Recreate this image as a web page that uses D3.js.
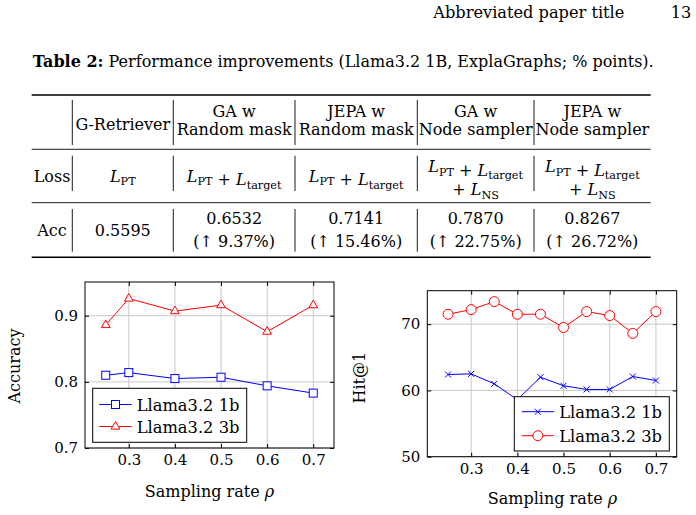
<!DOCTYPE html>
<html>
<head>
<meta charset="utf-8">
<script src="https://cdn.jsdelivr.net/npm/d3@7"></script>
<style>
  body { margin: 0; background: #fff; }
  text { font-family: "DejaVu Serif", "Liberation Serif", serif; fill: #000; }
</style>
</head>
<body>
<div class="container"></div>
<script>
// ---- data ----
var tableHeads = [["G-Retriever"], ["GA w", "Random mask"], ["JEPA w", "Random mask"], ["GA w", "Node sampler"], ["JEPA w", "Node sampler"]];
// subscripts of the L terms, one list per printed line
var lossTerms = [[["PT"]], [["PT", "target"]], [["PT", "target"]], [["PT", "target"], ["NS"]], [["PT", "target"], ["NS"]]];
var accValues = ["0.5595", "0.6532", "0.7141", "0.7870", "0.8267"];
var accGains = [null, "9.37", "15.46", "22.75", "26.72"];

var rhoLeft = [0.25, 0.3, 0.4, 0.5, 0.6, 0.7];
var acc1b = [0.810, 0.814, 0.805, 0.807, 0.794, 0.783];
var acc3b = [0.886, 0.926, 0.907, 0.916, 0.876, 0.916];

var rhoRight = [0.25, 0.3, 0.35, 0.4, 0.45, 0.5, 0.55, 0.6, 0.65, 0.7];
var hit1b = [62.4, 62.5, 61.0, 58.6, 62.0, 60.7, 60.15, 60.15, 62.1, 61.5];
var hit3b = [71.5, 72.2, 73.4, 71.5, 71.5, 69.5, 71.9, 71.3, 68.6, 71.9];

var xTickVals = [0.3, 0.4, 0.5, 0.6, 0.7];
var accTicks = [0.7, 0.8, 0.9];
var hitTicks = [50, 60, 70];
var seriesNames = ["Llama3.2 1b", "Llama3.2 3b"];

const WIDTH = 696;
const HEIGHT = 515;
const BLUE = "#0000ff";
const RED = "#ff0000";
const FS = '16px';   // body text size
const FS_SUB = '11.2px';

var translate = function(x, y){ return "translate(" + x + "," + y + ")"; };

var svg = d3.select('.container').append('svg')
  .attr('width', WIDTH).attr('height', HEIGHT);
svg.append('rect').attr('width', WIDTH).attr('height', HEIGHT).attr('fill', '#fff');

// ---- page header + caption ----
svg.append('text').attr('x', 433.3).attr('y', 18.3).style('font-size', '16.2px').text("Abbreviated paper title");
svg.append('text').attr('x', 670.7).attr('y', 18.3).style('font-size', '16.2px').text("13");

var cap = svg.append('text').attr('x', 32.7).attr('y', 66.7).style('font-size', FS);
cap.append('tspan').style('font-weight', 'bold').text("Table 2:");
cap.append('tspan').text(" Performance improvements (Llama3.2 1B, ExplaGraphs; % points).");

// ---- table ----
var colEdges = [31.7, 72.3, 173.3, 295, 417.3, 534, 650.7];
var colMid = function(i){ return (colEdges[i] + colEdges[i + 1]) / 2; };

[[95, 1.6], [149.3, 0.9], [202.7, 0.9], [257.3, 1.6]].forEach(function(r){
  svg.append('line').attr('x1', colEdges[0]).attr('x2', colEdges[6])
    .attr('y1', r[0]).attr('y2', r[0]).attr('stroke', '#000').attr('stroke-width', r[1]);
});
[[100, 145], [155.7, 191], [209, 251.7]].forEach(function(span){
  colEdges.slice(1, 6).forEach(function(x){
    svg.append('line').attr('x1', x).attr('x2', x).attr('y1', span[0]).attr('y2', span[1])
      .attr('stroke', '#000').attr('stroke-width', 0.9);
  });
});

var cellText = function(x, y){
  return svg.append('text').attr('x', x).attr('y', y).attr('text-anchor', 'middle').style('font-size', FS);
};

tableHeads.forEach(function(lines, i){
  var ys = lines.length == 1 ? [130] : [116.7, 135];
  lines.forEach(function(s, k){ cellText(colMid(i + 1), ys[k]).text(s); });
});

cellText(colMid(0), 181.7).text("Loss");
var addL = function(t, sub){
  t.append('tspan').style('font-style', 'italic').text("L");
  t.append('tspan').attr('dy', 3.5).style('font-size', FS_SUB).text(sub);
  t.append('tspan').attr('dy', -3.5).text("");
};
lossTerms.forEach(function(lines, i){
  var ys = lines.length == 1 ? [181.7] : [172.3, 195];
  lines.forEach(function(subs, k){
    var t = cellText(colMid(i + 1), ys[k]);
    subs.forEach(function(sub, j){
      if (j > 0 || k > 0) t.append('tspan').text(" + ");
      addL(t, sub);
    });
  });
});

cellText(colMid(0), 235.7).text("Acc");
accValues.forEach(function(v, i){
  if (accGains[i] == null) {
    cellText(colMid(i + 1), 235.7).text(v);
  } else {
    cellText(colMid(i + 1), 224.3).text(v);
    cellText(colMid(i + 1), 247.3).text("(\u2191 " + accGains[i] + "%)");
  }
});

// ---- markers ----
var drawMark = function(g, kind, cx, cy, color){
  if (kind == "square") {
    g.append('rect').attr('x', cx - 4).attr('y', cy - 4).attr('width', 8).attr('height', 8)
      .attr('fill', '#fff').attr('stroke', color);
  } else if (kind == "triangle") {
    g.append('path').attr('d', "M" + cx + "," + (cy - 5) + "L" + (cx + 4.4) + "," + (cy + 2.6) + "L" + (cx - 4.4) + "," + (cy + 2.6) + "Z")
      .attr('fill', '#fff').attr('stroke', color);
  } else if (kind == "circle") {
    g.append('circle').attr('cx', cx).attr('cy', cy).attr('r', 5).attr('fill', '#fff').attr('stroke', color);
  } else {
    g.append('path').attr('d', "M" + (cx - 3) + "," + (cy - 3) + "L" + (cx + 3) + "," + (cy + 3) + "M" + (cx - 3) + "," + (cy + 3) + "L" + (cx + 3) + "," + (cy - 3))
      .attr('stroke', color).attr('stroke-width', 1);
  }
};

// ---- one plot panel ----
var drawPanel = function(p){
  var x = d3.scaleLinear().domain([0.205, 0.745]).range([p.left, p.right]);
  var y = d3.scaleLinear().domain(p.yDomain).range([p.bottom, p.top]);
  var g = svg.append('g');

  g.selectAll('.gx').data(xTickVals).enter().append('line')
    .attr('x1', function(d){ return x(d); }).attr('x2', function(d){ return x(d); })
    .attr('y1', p.top).attr('y2', p.bottom).attr('stroke', '#c8c8c8');
  g.selectAll('.gy').data(p.yTicks).enter().append('line')
    .attr('y1', function(d){ return y(d); }).attr('y2', function(d){ return y(d); })
    .attr('x1', p.left).attr('x2', p.right).attr('stroke', '#c8c8c8');

  var ax = [
    [d3.axisBottom(x).tickValues(xTickVals).tickFormat(d3.format('.1f')).tickPadding(p.xPad), translate(0, p.bottom)],
    [d3.axisTop(x).tickValues(xTickVals).tickFormat(''), translate(0, p.top)],
    [d3.axisLeft(y).tickValues(p.yTicks).tickFormat(p.yFormat).tickPadding(p.yPad), translate(p.left, 0)],
    [d3.axisRight(y).tickValues(p.yTicks).tickFormat(''), translate(p.right, 0)]
  ];
  ax.forEach(function(a){
    var ag = g.append('g').attr('transform', a[1]).call(a[0].tickSizeInner(-4).tickSizeOuter(0));
    ag.select('.domain').remove();
    ag.selectAll('line').attr('stroke', '#000');
    ag.selectAll('text').attr('fill', '#000').style('font-size', '15px').style('font-family', '"DejaVu Serif", serif');
  });

  var line = d3.line().x(function(d){ return x(d[0]); }).y(function(d){ return y(d[1]); });
  p.series.forEach(function(s){
    var pts = p.xs.map(function(v, i){ return [v, s.values[i]]; });
    g.append('path').datum(pts).attr('d', line).attr('fill', 'none').attr('stroke', s.color).attr('stroke-width', 1);
    pts.forEach(function(d){ drawMark(g, s.mark, x(d[0]), y(d[1]), s.color); });
  });

  g.append('rect').attr('x', p.left).attr('y', p.top).attr('width', p.right - p.left).attr('height', p.bottom - p.top)
    .attr('fill', 'none').attr('stroke', '#000').attr('stroke-width', 1);

  // legend
  var L = p.legend;
  g.append('rect').attr('x', L.x0).attr('y', L.y0).attr('width', L.x1 - L.x0).attr('height', L.y1 - L.y0)
    .attr('fill', '#fff').attr('stroke', '#000').attr('stroke-width', 1);
  p.series.forEach(function(s, i){
    var ly = L.rows[i];
    g.append('line').attr('x1', L.lx0).attr('x2', L.lx1).attr('y1', ly).attr('y2', ly).attr('stroke', s.color);
    drawMark(g, s.mark, (L.lx0 + L.lx1) / 2, ly, s.color);
    g.append('text').attr('x', L.tx).attr('y', ly + 6).style('font-size', '16.3px').text(seriesNames[i]);
  });

  g.append('text').attr('transform', translate(p.yLab[0], p.yLab[1]) + " rotate(-90)")
    .attr('text-anchor', 'middle').style('font-size', '16px').text(p.yTitle);
  var xt = g.append('text').attr('x', p.xLab[0]).attr('y', p.xLab[1]).attr('text-anchor', 'middle').style('font-size', '16px');
  xt.append('tspan').text("Sampling rate ");
  xt.append('tspan').style('font-style', 'italic').text("\u03c1");
};

drawPanel({
  left: 85, right: 334, top: 282, bottom: 448,
  yDomain: [0.7, 0.951], yTicks: accTicks, yFormat: d3.format('.1f'),
  xPad: 6, yPad: 7, xs: rhoLeft,
  series: [
    { values: acc1b, color: BLUE, mark: "square" },
    { values: acc3b, color: RED, mark: "triangle" }
  ],
  legend: { x0: 92.7, x1: 246.7, y0: 388.3, y1: 442.3, lx0: 99.3, lx1: 131.7, tx: 136.7, rows: [404.5, 426.5] },
  yTitle: "Accuracy", yLab: [20, 366], xLab: [209.5, 496.7]
});

drawPanel({
  left: 427.3, right: 676.7, top: 290.7, bottom: 456.7,
  yDomain: [50, 75.05], yTicks: hitTicks, yFormat: d3.format('d'),
  xPad: 7, yPad: 7, xs: rhoRight,
  series: [
    { values: hit1b, color: BLUE, mark: "cross" },
    { values: hit3b, color: RED, mark: "circle" }
  ],
  legend: { x0: 514.3, x1: 669.3, y0: 396.7, y1: 451, lx0: 521.7, lx1: 554, tx: 559.3, rows: [411.7, 435.7] },
  yTitle: "Hit@1", yLab: [365, 377.7], xLab: [552.5, 504.3]
});
</script>
</body>
</html>
